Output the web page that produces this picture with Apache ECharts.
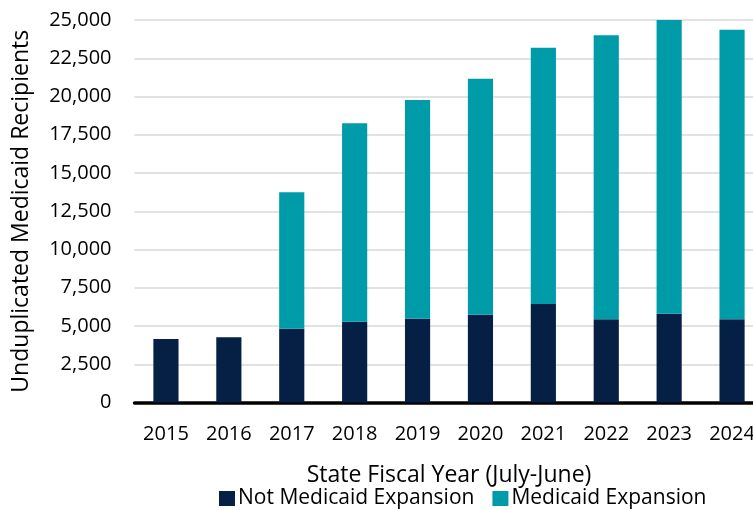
<!DOCTYPE html>
<html>
<head>
<meta charset="utf-8">
<script src="https://cdn.jsdelivr.net/npm/echarts@6/dist/echarts.min.js"></script>
<style>
  html, body { margin: 0; padding: 0; background: #ffffff; overflow: hidden; }
  #chart { width: 753px; height: 510px; }
</style>
</head>
<body>
<div id="chart"></div>
<script>
// Fiscal years (July-June)
const years = ['2015', '2016', '2017', '2018', '2019', '2020', '2021', '2022', '2023', '2024'];
// Unduplicated recipients who are not in the expansion group
const notExpansion = [4150, 4270, 4820, 5280, 5480, 5740, 6440, 5440, 5800, 5440];
// Unduplicated recipients in the Medicaid expansion group
const expansion = [null, null, 8920, 12970, 14290, 15420, 16750, 18560, 19200, 18930];

const FONT = "'Open Sans', 'Noto Sans', sans-serif";
const NAVY = '#061f44';
const TEAL = '#009ba8';

const chart = echarts.init(document.getElementById('chart'), null, { renderer: 'canvas' });

chart.setOption({
  animation: false,
  backgroundColor: '#ffffff',
  textStyle: { fontFamily: FONT },
  // the plot runs a little past the right edge of the canvas
  grid: {
    left: 134.5, width: 629, top: 20, bottom: 107.5,
    containLabel: false, outerBoundsMode: 'none'
  },
  legend: {
    left: 219,
    top: 488,
    padding: 0,
    icon: 'rect',
    itemWidth: 16,
    itemHeight: 15,
    itemGap: 18,
    textStyle: { fontFamily: FONT, fontSize: 21, color: '#000000', padding: [0, 0, 0, -2] },
    data: ['Not Medicaid Expansion', 'Medicaid Expansion']
  },
  xAxis: {
    type: 'category',
    data: years,
    name: 'State Fiscal Year (July-June)',
    nameLocation: 'middle',
    nameGap: 61,
    nameTextStyle: { fontFamily: FONT, fontSize: 23, color: '#000000' },
    axisLine: { lineStyle: { color: '#000000', width: 3.5 } },
    axisTick: { show: false },
    axisLabel: { fontFamily: FONT, fontSize: 20, color: '#000000', margin: 22 }
  },
  yAxis: {
    type: 'value',
    min: 0,
    max: 25000,
    interval: 2500,
    name: 'Unduplicated Medicaid Recipients',
    nameLocation: 'middle',
    nameRotate: 90,
    nameGap: 102,
    nameTextStyle: { fontFamily: FONT, fontSize: 23, color: '#000000' },
    axisLine: { show: false },
    axisTick: { show: false },
    splitLine: { lineStyle: { color: '#d9d9d9', width: 1.5 } },
    axisLabel: {
      fontFamily: FONT, fontSize: 20, color: '#000000', margin: 23,
      formatter: v => v.toLocaleString('en-US')
    }
  },
  series: [
    {
      name: 'Not Medicaid Expansion',
      type: 'bar',
      stack: 'total',
      barWidth: '40%',
      itemStyle: { color: NAVY },
      data: notExpansion
    },
    {
      name: 'Medicaid Expansion',
      type: 'bar',
      stack: 'total',
      barWidth: '40%',
      itemStyle: { color: TEAL },
      data: expansion
    }
  ]
});
</script>
</body>
</html>
